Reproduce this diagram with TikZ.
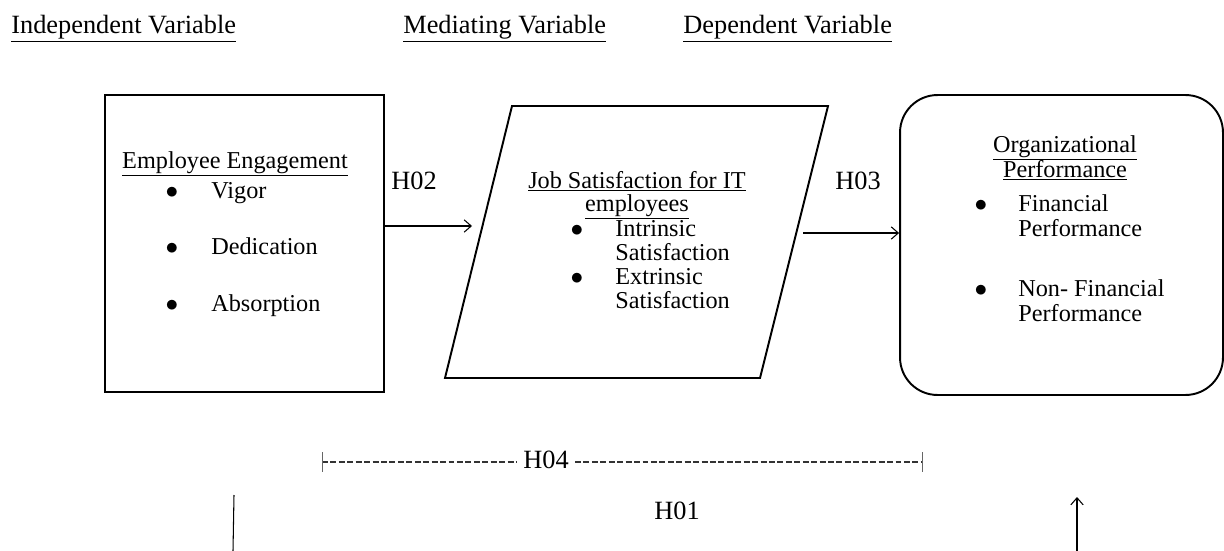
\documentclass[tikz,border=0pt]{standalone}
\usepackage{fontspec}
\setmainfont{Liberation Serif}
\usetikzlibrary{positioning,arrows,arrows.meta}
\tikzset{txt/.style={inner sep=0pt,anchor=base west,font=\fontsize{13.8}{16}\selectfont},
hd/.style={inner sep=0pt,anchor=base west,font=\fontsize{15}{18}\selectfont},
hyp/.style={inner sep=0pt,anchor=base,font=\fontsize{15}{18}\selectfont},
bul/.style={inner sep=0pt,anchor=base,font=\fontsize{14}{16}\selectfont},
link/.style={-{Straight Barb[length=4pt,width=7pt]},line width=0.6pt},
dots/.style={line width=1.2pt,black!80,dash pattern=on 3.4pt off 1.4pt}}

\begin{document}
\begin{tikzpicture}[x=0.02cm,y=-0.02cm]
\useasboundingbox (0,0) rectangle (1224,551);
% headers
\node[hd] (hiv) at (11,33) {\underline{Independent Variable}};
\node[hd] (hmv) at (403,33) {\underline{Mediating Variable}};
\node[hd] (hdv) at (683,33) {\underline{Dependent Variable}};
% employee engagement
\node[draw,line width=1.1pt,minimum width=5.58cm,minimum height=5.94cm] (ee) at (244.5,243.5) {};
\node[txt,anchor=base] (eet) at (235,168) {\underline{Employee Engagement}};
\node[bul] (b1) at (172,198) {$\bullet$};
\node[txt] (vig) at (211,198) {Vigor};
\node[bul] (b2) at (172,254) {$\bullet$};
\node[txt] (ded) at (211,254) {Dedication};
\node[bul] (b3) at (172,311) {$\bullet$};
\node[txt] (abs) at (211,311) {Absorption};
% job satisfaction
\coordinate (js1) at (512,106);
\coordinate (js2) at (828,106);
\coordinate (js3) at (760,378);
\coordinate (js4) at (445,378);
\draw[line width=1.1pt] (js1)--(js2)--(js3)--(js4)--cycle;
\node[txt,anchor=base] (jst) at (637,188) {\underline{Job Satisfaction for IT}};
\node[txt,anchor=base] (jst2) at (637,211) {\underline{employees}};
\node[bul] (b4) at (577,236) {$\bullet$};
\node[txt] (ins) at (615,236) {Intrinsic};
\node[txt] (ins2) at (615,260) {Satisfaction};
\node[bul] (b5) at (577,284) {$\bullet$};
\node[txt] (exs) at (615,284) {Extrinsic};
\node[txt] (exs2) at (615,308) {Satisfaction};
% organizational performance
\node[draw,line width=1.1pt,rounded corners=0.75cm,minimum width=6.46cm,minimum height=6cm] (op) at (1061.5,245) {};
\node[txt,anchor=base] (opt) at (1065,152) {\underline{Organizational}};
\node[txt,anchor=base] (opt2) at (1065,177) {\underline{Performance}};
\node[bul] (b6) at (981,211) {$\bullet$};
\node[txt] (fp) at (1018,211) {Financial};
\node[txt] (fp2) at (1018,236) {Performance};
\node[bul] (b7) at (981,296) {$\bullet$};
\node[txt] (nfp) at (1018,296) {Non- Financial};
\node[txt] (nfp2) at (1018,321) {Performance};
% hypotheses
\coordinate (a2) at (472,226);
\draw[link] (ee.east|-a2)--(a2);
\node[hyp] (h2) at (414,189) {H02};
\coordinate (a3) at (803,233);
\draw[link] (a3)--(op.west|-a3);
\node[hyp] (h3) at (858,189) {H03};
\node[hyp,inner xsep=0.12cm] (h4) at (546,468) {H04};
\coordinate (l4) at (322,462);
\coordinate (r4) at (922,462);
\draw[dots] (l4)--(h4.west|-l4);
\draw[dots] (h4.east|-r4)--(r4);
\draw[line width=0.5pt,black!60] ([yshift=0.2cm]l4)--([yshift=-0.2cm]l4);
\draw[line width=0.5pt,black!60] ([yshift=0.2cm]r4)--([yshift=-0.2cm]r4);
\node[hyp] (h1) at (677,519) {H01};
\coordinate (l1a) at (234,495);
\coordinate (l1b) at (233,551);
\draw[line width=0.6pt] (l1a)--(l1b);
\coordinate (r1a) at (1077,551);
\coordinate (r1b) at (1077,497);
\draw[link] (r1a)--(r1b);
\end{tikzpicture}
\end{document}
